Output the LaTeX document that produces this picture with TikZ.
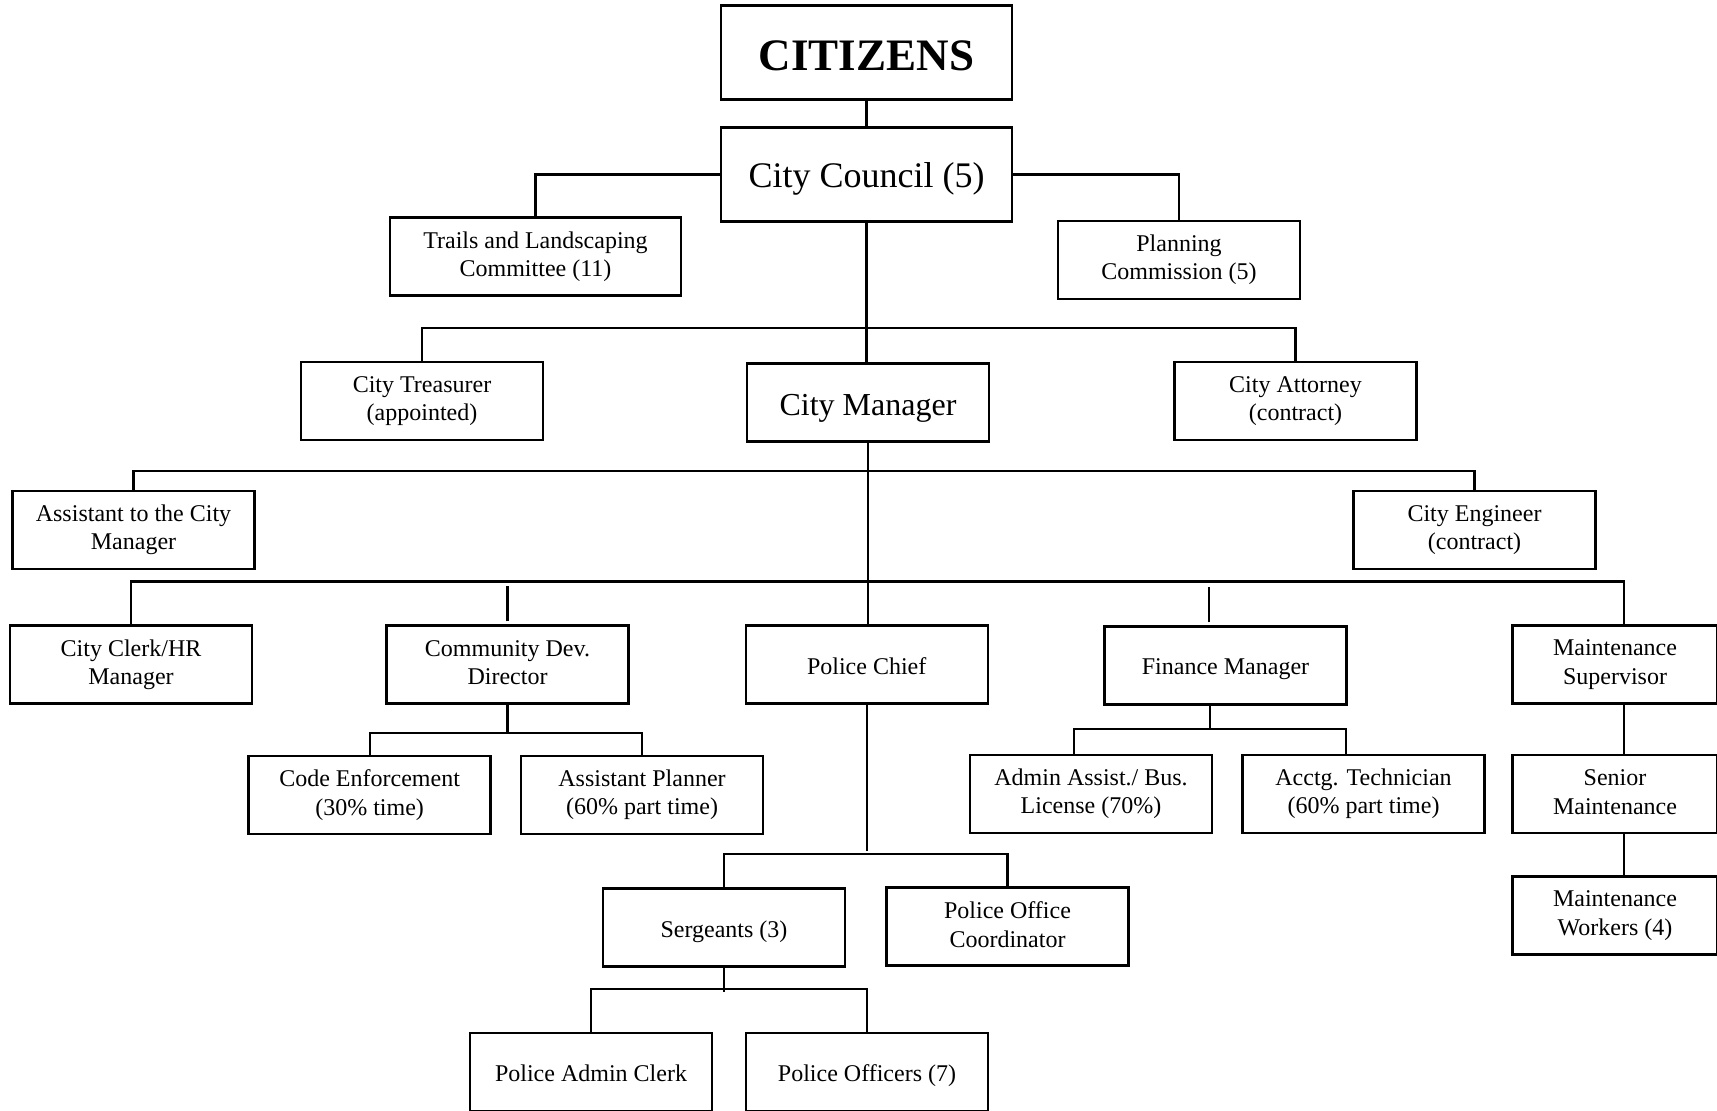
\documentclass[tikz,border=0pt]{standalone}
\usepackage{fontspec}
\setmainfont{Liberation Serif}
\usepackage{tikz}
\newcommand\orgstrut{\rule[-0.15\baselineskip]{0pt}{\baselineskip}}

\begin{document}
\begin{tikzpicture}[x=0.5pt,y=-0.5pt,
                box/.style={draw, line width=1.2pt, minimum width=121pt, minimum height=39pt, inner sep=2pt, align=center,
                    font=\fontsize{12}{14.2}\selectfont, execute at begin node=\orgstrut, execute at end node=\orgstrut},
                bigbox/.style={box, minimum width=145.5pt, minimum height=47pt},
                maintbox/.style={box, minimum width=102.5pt},
                link/.style={line width=1.1pt}]
                % Define the page
                \clip (0,0) rectangle (1717,1110);
                \fill[white] (0,0) rectangle (1717,1110);

                % Define the boxes
                \node[bigbox, font=\bfseries\fontsize{22.5}{25}\selectfont] (citizens) at (866.5,52.5) {CITIZENS};
                \node[bigbox, font=\fontsize{18}{20}\selectfont] (council) at (866.5,174.5) {City Council (5)};
                \node[box, minimum width=145.5pt] (trails) at (535.5,256.5) {Trails and Landscaping\\Committee (11)};
                \node[box] (planning) at (1179,260) {Planning\\Commission (5)};
                \node[box] (treasurer) at (422,401) {City Treasurer\\(appointed)};
                \node[box, font=\fontsize{16}{19}\selectfont] (manager) at (868,402.5) {City Manager};
                \node[box] (attorney) at (1295.5,401) {City Attorney\\(contract)};
                \node[box] (assistant) at (133.5,530) {Assistant to the City\\Manager};
                \node[box] (engineer) at (1474.5,530) {City Engineer\\(contract)};
                \node[box] (clerk) at (131,664.5) {City Clerk/HR\\Manager};
                \node[box] (commdev) at (507.5,664.5) {Community Dev.\\Director};
                \node[box] (chief) at (866.7,664.5) {Police Chief};
                \node[box] (finance) at (1225.5,665.5) {Finance Manager};
                \node[maintbox] (maintsup) at (1615,664.5) {Maintenance\\Supervisor};
                \node[box] (code) at (369.6,795) {Code Enforcement\\(30\% time)};
                \node[box] (planner) at (642,795) {Assistant Planner\\(60\% part time)};
                \node[box] (adminassist) at (1091,794) {Admin Assist./ Bus.\\License (70\%)};
                \node[box] (acctg) at (1363.5,794) {Acctg. Technician\\(60\% part time)};
                \node[maintbox] (senior) at (1615,794) {Senior\\Maintenance};
                \node[maintbox] (workers) at (1615,915.5) {Maintenance\\Workers (4)};
                \node[box] (sergeants) at (724,927.5) {Sergeants (3)};
                \node[box] (coordinator) at (1007.5,926.5) {Police Office\\Coordinator};
                \node[box] (adminclerk) at (591,1072) {Police Admin Clerk};
                \node[box] (officers) at (867,1072) {Police Officers (7)};

                % Define the bars
                \coordinate (cncbar) at (867,328);
                \coordinate (mgrbar) at (867,471);
                \coordinate (rowbar) at (866.7,581.5);
                \coordinate (devbar) at (507.5,733);
                \coordinate (finbar) at (1210,729);
                \coordinate (chiefbar) at (866.7,854);
                \coordinate (sgtbar) at (724,989);

                \draw[link] (citizens) -- (council);
                \draw[link] (council.west) -| (trails.north);
                \draw[link] (council.east) -| (planning.north);
                \draw[link] (council.south) -- (council.south |- manager.north);
                \draw[link] (treasurer.north) |- (cncbar) -| (attorney.north);
                \draw[link] (manager.south) -- (manager.south |- chief.north);
                \draw[link] (assistant.north) |- (mgrbar) -| (engineer.north);
                \draw[link] (clerk.north) |- (rowbar) -| ([xshift=4.5pt]maintsup.north);
                \draw[link] ([yshift=1.5pt]commdev.north) -- ++(0,-35);
                \draw[link] ([shift={(-8.25pt,1.5pt)}]finance.north) -- ++(0,-35);
                \draw[link] (commdev.south) -- (devbar);
                \draw[link] (code.north) |- (devbar) -| (planner.north);
                \draw[link] ([xshift=-7.75pt]finance.south) -- (finbar);
                \draw[link] ([xshift=-8.5pt]adminassist.north) |- (finbar) -| ([xshift=-8.75pt]acctg.north);
                \draw[link] (chief.south) -- ([yshift=1.5pt]chiefbar);
                \draw[link] (sergeants.north) |- (chiefbar) -| (coordinator.north);
                \draw[link] (sergeants.south) -- ([yshift=-1.5pt]sgtbar);
                \draw[link] (adminclerk.north) |- (sgtbar) -| (officers.north);

                \foreach \upper/\lower in {maintsup/senior, senior/workers}
                    \draw[link] ([xshift=4.5pt]\upper.south) -- ([xshift=4.5pt]\lower.north);

            \end{tikzpicture}
\end{document}
